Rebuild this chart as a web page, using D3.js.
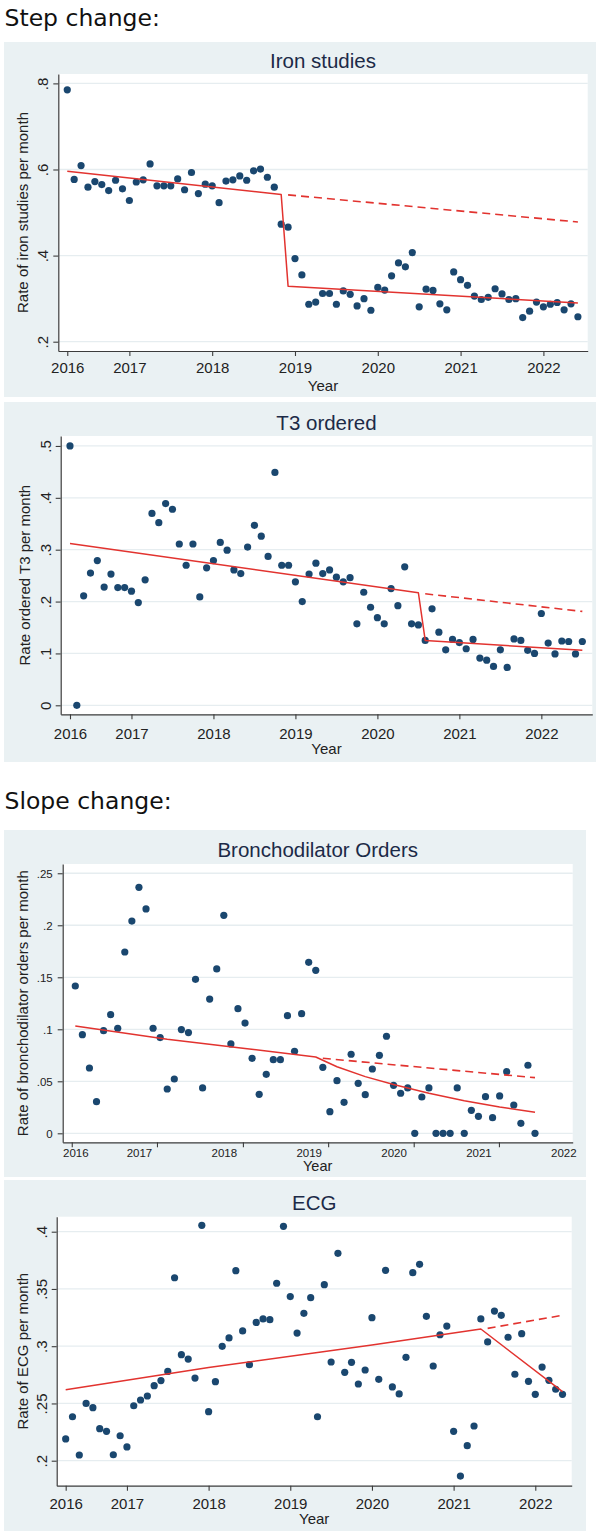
<!DOCTYPE html>
<html>
<head>
<meta charset="utf-8">
<script src="https://cdnjs.cloudflare.com/ajax/libs/d3/7.8.5/d3.min.js"></script>
<style>
  body { margin: 0; background: #ffffff; }
  svg { display: block; }
</style>
</head>
<body>
<svg id="chart" width="600" height="1535"></svg>
<script>
// ---------------- DATA ----------------
// x = month index (0 = first month shown, labelled "2016")
const xTickMonths = [0, 9, 21, 33, 45, 57, 69];
const xTickLabels = ["2016", "2017", "2018", "2019", "2020", "2021", "2022"];

// Iron studies (step change)
const ironValues = [0.785, 0.577, 0.609, 0.559, 0.572, 0.565, 0.551, 0.575, 0.555, 0.528,
  0.571, 0.576, 0.613, 0.562, 0.562, 0.562, 0.578, 0.553, 0.593, 0.544,
  0.566, 0.562, 0.523, 0.573, 0.576, 0.585, 0.575, 0.597, 0.601, 0.582,
  0.559, 0.473, 0.466, 0.393, 0.355, 0.287, 0.292, 0.312, 0.312, 0.287,
  0.318, 0.310, 0.283, 0.300, 0.273, 0.326, 0.320, 0.353, 0.383, 0.374,
  0.407, 0.281, 0.322, 0.319, 0.288, 0.274, 0.362, 0.344, 0.331, 0.306,
  0.298, 0.303, 0.323, 0.311, 0.298, 0.300, 0.256, 0.271, 0.292, 0.281,
  0.287, 0.291, 0.274, 0.288, 0.258];
const ironFit = [{m: 0, v: 0.596}, {m: 31, v: 0.542}, {m: 32, v: 0.329}, {m: 74, v: 0.290}];
const ironCounterfactual = [{m: 32, v: 0.541}, {m: 74, v: 0.478}];
const ironYTicks = [0.2, 0.4, 0.6, 0.8];
const ironYTickLabels = [".2", ".4", ".6", ".8"];

// T3 ordered (step change)
const t3Values = [0.500, 0.000, 0.211, 0.255, 0.279, 0.228, 0.253, 0.227, 0.227, 0.220,
  0.198, 0.242, 0.370, 0.352, 0.389, 0.378, 0.311, 0.270, 0.311, 0.209,
  0.265, 0.279, 0.314, 0.299, 0.261, 0.254, 0.305, 0.347, 0.326, 0.287,
  0.449, 0.270, 0.270, 0.238, 0.200, 0.253, 0.274, 0.254, 0.261, 0.247,
  0.238, 0.246, 0.157, 0.218, 0.189, 0.169, 0.157, 0.225, 0.192, 0.267,
  0.157, 0.155, 0.125, 0.186, 0.141, 0.107, 0.127, 0.121, 0.109, 0.127,
  0.091, 0.087, 0.075, 0.107, 0.073, 0.128, 0.125, 0.106, 0.100, 0.177,
  0.120, 0.099, 0.124, 0.123, 0.099, 0.123];
const t3Fit = [{m: 0, v: 0.312}, {m: 51, v: 0.217}, {m: 52, v: 0.125}, {m: 75, v: 0.106}];
const t3Counterfactual = [{m: 52, v: 0.215}, {m: 75, v: 0.181}];
const t3YTicks = [0, 0.1, 0.2, 0.3, 0.4, 0.5];
const t3YTickLabels = ["0", ".1", ".2", ".3", ".4", ".5"];

// Bronchodilator orders (slope change)
const bronchValues = [0.1416, 0.0948, 0.0628, 0.0304, 0.0987, 0.114, 0.101, 0.1743, 0.204, 0.2365,
  0.2157, 0.101, 0.092, 0.0426, 0.0522, 0.0997, 0.0968, 0.148, 0.0436, 0.129,
  0.158, 0.2096, 0.0859, 0.1198, 0.106, 0.0721, 0.0375, 0.0567, 0.0708, 0.0708,
  0.1131, 0.0788, 0.115, 0.1644, 0.1567, 0.0634, 0.0208, 0.0506, 0.0298, 0.076,
  0.048, 0.0371, 0.0618, 0.075, 0.0933, 0.0461, 0.0385, 0.0436, 0, 0.0349,
  0.0436, 0, 0, 0, 0.0436, 0, 0.0221, 0.0163, 0.0352, 0.015,
  0.0359, 0.0592, 0.0272, 0.0096, 0.0654, 0];
const bronchFit = [{m: 0, v: 0.1032}, {m: 13, v: 0.0905}, {m: 24, v: 0.0815}, {m: 34, v: 0.0733},
  {m: 37, v: 0.0640}, {m: 41, v: 0.0545}, {m: 45, v: 0.0470}, {m: 50, v: 0.0385},
  {m: 55, v: 0.0312}, {m: 60, v: 0.0252}, {m: 65, v: 0.0202}];
const bronchCounterfactual = [{m: 35, v: 0.0721}, {m: 65, v: 0.0535}];
const bronchYTicks = [0, 0.05, 0.1, 0.15, 0.2, 0.25];
const bronchYTickLabels = ["0", ".05", ".1", ".15", ".2", ".25"];
const bronchTickMarkMonths = [-0.5, 11.55, 23.7, 35.75, 47.85, 59.9];

// ECG (slope change)
const ecgValues = [0.219, 0.2384, 0.205, 0.250, 0.2463, 0.228, 0.2257, 0.2052, 0.2218, 0.212,
  0.248, 0.253, 0.2565, 0.2655, 0.270, 0.278, 0.3598, 0.2926, 0.2888, 0.2722,
  0.4056, 0.2428, 0.269, 0.2999, 0.3072, 0.366, 0.3133, 0.2839, 0.3208, 0.3238,
  0.3232, 0.355, 0.4047, 0.3433, 0.3115, 0.3287, 0.3424, 0.2384, 0.3537, 0.2862,
  0.3811, 0.2772, 0.2859, 0.267, 0.2792, 0.3249, 0.2711, 0.3663, 0.2644, 0.2583,
  0.2903, 0.3642, 0.3715, 0.3261, 0.2827, 0.31, 0.3176, 0.2257, 0.1866, 0.2131,
  0.2303, 0.3238, 0.3037, 0.3307, 0.327, 0.3078, 0.2755, 0.3109, 0.2693, 0.258,
  0.2818, 0.2702, 0.2624, 0.258];
const ecgFit = [{m: 0, v: 0.262}, {m: 21, v: 0.2815}, {m: 45, v: 0.301}, {m: 61, v: 0.315}, {m: 73, v: 0.2603}];
const ecgCounterfactual = [{m: 62, v: 0.3156}, {m: 73, v: 0.327}];
const ecgYTicks = [0.2, 0.25, 0.3, 0.35, 0.4];
const ecgYTickLabels = [".2", ".25", ".3", ".35", ".4"];

// ---------------- LAYOUT ----------------
const FONT = "'Liberation Sans', Arial, Helvetica, sans-serif";
const HEAD_FONT = "'DejaVu Sans', 'Open Sans', sans-serif";
const BG = "#eaf1f3";
const GRID = "#e6edf0";
const NAVY = "#1a476f";
const RED = "#e2332f";
const AXIS = "#3c3c3c";
const TITLE_COLOR = "#1c2a47";

const panels = [
  {
    title: "Iron studies", yTitle: "Rate of iron studies per month",
    values: ironValues, fit: ironFit, cf: ironCounterfactual,
    yTicks: ironYTicks, yTickLabels: ironYTickLabels,
    box: [4, 42, 596, 397], plot: {l: 58.3, r: 587.7, t: 74, b: 351},
    xDomain: [-1.30, 75.42], yDomain: [0.1784, 0.8218],
    rotY: true, tickFont: 15, titleBase: 68, yTitleX: 28, xLabBase: 22, yearBase: 39.5
  },
  {
    title: "T3 ordered", yTitle: "Rate ordered T3 per month",
    values: t3Values, fit: t3Fit, cf: t3Counterfactual,
    yTicks: t3YTicks, yTickLabels: t3YTickLabels,
    box: [4, 402, 596, 762], plot: {l: 60.7, r: 592.3, t: 436, b: 714.3},
    xDomain: [-1.36, 76.46], yDomain: [-0.01735, 0.5192],
    rotY: true, tickFont: 15, titleBase: 430, yTitleX: 30, xLabBase: 24.4, yearBase: 39.4
  },
  {
    title: "Bronchodilator Orders", yTitle: "Rate of bronchodilator orders per month",
    values: bronchValues, fit: bronchFit, cf: bronchCounterfactual,
    yTicks: bronchYTicks, yTickLabels: bronchYTickLabels,
    box: [4, 830, 586, 1177], plot: {l: 62.7, r: 572.7, t: 864, b: 1142.3},
    xDomain: [-1.78, 70.33], yDomain: [-0.00865, 0.2589],
    rotY: false, tickFont: 11.5, titleBase: 857.3, yTitleX: 27.5, xLabBase: 14.5, yearBase: 28.7,
    tickMarks: bronchTickMarkMonths
  },
  {
    title: "ECG", yTitle: "Rate of ECG per month",
    values: ecgValues, fit: ecgFit, cf: ecgCounterfactual,
    yTicks: ecgYTicks, yTickLabels: ecgYTickLabels,
    box: [4, 1180, 586, 1531], plot: {l: 56.7, r: 571.7, t: 1216.7, b: 1485.7},
    xDomain: [-1.32, 74.35], yDomain: [0.17817, 0.4131],
    rotY: true, tickFont: 15, titleBase: 1210, yTitleX: 27.5, xLabBase: 23, yearBase: 38
  }
];

const svg = d3.select("#chart");

svg.append("text").attr("x", 4.5).attr("y", 25.5)
  .attr("font-family", HEAD_FONT).attr("font-size", 23.5).attr("fill", "#111")
  .text("Step change:");
svg.append("text").attr("x", 4.5).attr("y", 809)
  .attr("font-family", HEAD_FONT).attr("font-size", 23.5).attr("fill", "#111")
  .text("Slope change:");

function drawPanel(p) {
  const g = svg.append("g");
  const P = p.plot;
  g.append("rect").attr("x", p.box[0]).attr("y", p.box[1])
    .attr("width", p.box[2] - p.box[0]).attr("height", p.box[3] - p.box[1])
    .attr("fill", BG);
  g.append("rect").attr("x", P.l).attr("y", P.t)
    .attr("width", P.r - P.l).attr("height", P.b - P.t).attr("fill", "#ffffff");

  const x = d3.scaleLinear().domain(p.xDomain).range([P.l, P.r]);
  const y = d3.scaleLinear().domain(p.yDomain).range([P.b, P.t]);

  // grid lines
  g.append("g").selectAll("line").data(p.yTicks).join("line")
    .attr("x1", P.l).attr("x2", P.r)
    .attr("y1", d => y(d)).attr("y2", d => y(d))
    .attr("stroke", GRID).attr("stroke-width", 1.3);

  // title
  g.append("text").attr("x", (P.l + P.r) / 2).attr("y", p.titleBase)
    .attr("text-anchor", "middle").attr("font-family", FONT).attr("font-size", 20.5)
    .attr("fill", TITLE_COLOR).text(p.title);

  // markers
  g.append("g").selectAll("circle").data(p.values).join("circle")
    .attr("cx", (d, i) => x(i)).attr("cy", d => y(d)).attr("r", 3.6)
    .attr("fill", NAVY);

  // fitted lines
  const line = d3.line().x(d => x(d.m)).y(d => y(d.v));
  g.append("path").datum(p.cf).attr("d", line).attr("fill", "none")
    .attr("stroke", RED).attr("stroke-width", 1.6).attr("stroke-dasharray", "8,5");
  g.append("path").datum(p.fit).attr("d", line).attr("fill", "none")
    .attr("stroke", RED).attr("stroke-width", 1.5).attr("stroke-linejoin", "round");

  // x axis
  const xAxisG = g.append("g").attr("transform", `translate(0,${P.b})`);
  if (p.tickMarks) {
    xAxisG.call(d3.axisBottom(x).tickValues(p.tickMarks).tickSize(5).tickSizeOuter(0).tickFormat(""));
    const labG = g.append("g").attr("transform", `translate(0,${P.b})`);
    labG.call(d3.axisBottom(x).tickValues(xTickMonths).tickSize(0).tickSizeOuter(0)
      .tickFormat((d, i) => xTickLabels[i]));
    labG.select(".domain").remove();
    labG.selectAll("text").attr("y", p.xLabBase).attr("dy", 0)
      .attr("font-family", FONT).attr("font-size", p.tickFont).attr("fill", "#222");
  } else {
    xAxisG.call(d3.axisBottom(x).tickValues(xTickMonths).tickSize(5).tickSizeOuter(0)
      .tickFormat((d, i) => xTickLabels[i]));
    xAxisG.selectAll("text").attr("y", p.xLabBase).attr("dy", 0)
      .attr("font-family", FONT).attr("font-size", p.tickFont).attr("fill", "#222");
  }
  xAxisG.select(".domain").attr("stroke", AXIS).attr("stroke-width", 1.2);
  xAxisG.selectAll(".tick line").attr("stroke", AXIS).attr("stroke-width", 1.1);

  // y axis
  const yAxisG = g.append("g").attr("transform", `translate(${P.l},0)`);
  yAxisG.call(d3.axisLeft(y).tickValues(p.yTicks).tickSize(5).tickSizeOuter(0)
    .tickFormat((d, i) => p.yTickLabels[i]));
  yAxisG.select(".domain").attr("stroke", AXIS).attr("stroke-width", 1.2);
  yAxisG.selectAll(".tick line").attr("stroke", AXIS).attr("stroke-width", 1.1);
  const yt = yAxisG.selectAll("text").attr("font-family", FONT)
    .attr("font-size", p.tickFont).attr("fill", "#222");
  if (p.rotY) {
    yt.attr("x", 0).attr("dy", 0).attr("text-anchor", "middle")
      .attr("transform", "translate(-10,0) rotate(-90)");
  } else {
    yt.attr("x", -10).attr("dy", "0.34em");
  }

  // axis titles
  g.append("text").attr("x", (P.l + P.r) / 2).attr("y", P.b + p.yearBase)
    .attr("text-anchor", "middle").attr("font-family", FONT)
    .attr("font-size", p.tickFont < 14 ? 14.5 : 15).attr("fill", "#222").text("Year");
  g.append("text")
    .attr("transform", `translate(${p.yTitleX},${(P.t + P.b) / 2}) rotate(-90)`)
    .attr("text-anchor", "middle").attr("font-family", FONT).attr("font-size", 15)
    .attr("fill", "#222").text(p.yTitle);
}

panels.forEach(drawPanel);
</script>
</body>
</html>
